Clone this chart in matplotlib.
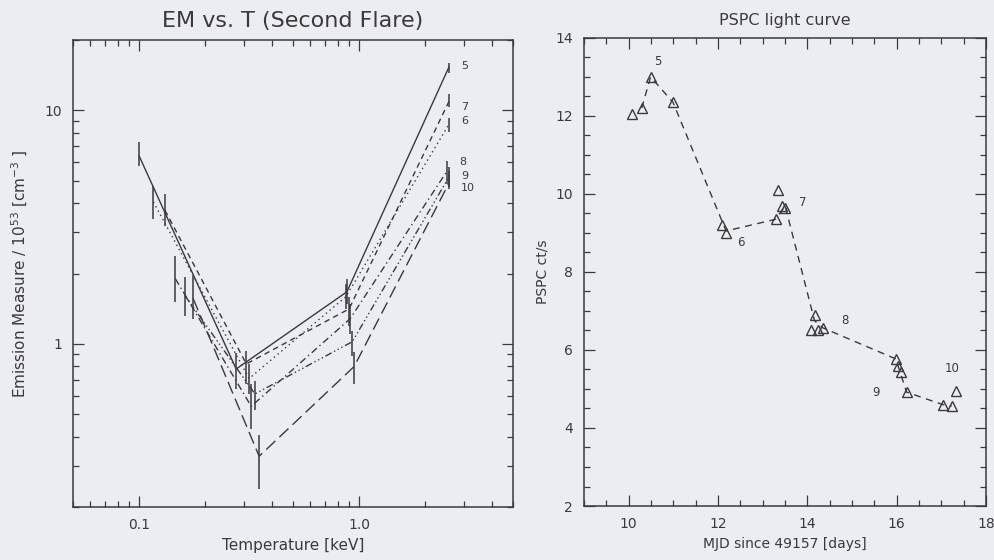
import matplotlib
matplotlib.use('Agg')
import matplotlib.pyplot as plt
from matplotlib.ticker import FixedLocator, NullFormatter, MultipleLocator

# ---- EM vs T data (series 5..10): T [keV], EM and error-bar bounds ----
names = ['5', '6', '7', '8', '9', '10']

T5 = [0.100, 0.276, 0.88, 2.56]
EM5 = [6.36, 0.78, 1.67, 15.3]
LO5 = [5.76, 0.64, 1.48, 14.5]
HI5 = [7.30, 0.91, 1.90, 16.0]

T6 = [0.116, 0.316, 0.87, 2.56]
EM6 = [4.05, 0.71, 1.59, 8.7]
LO6 = [3.42, 0.61, 1.41, 8.04]
HI6 = [4.73, 0.82, 1.80, 9.3]

T7 = [0.131, 0.307, 0.90, 2.56]
EM7 = [3.73, 0.82, 1.41, 10.9]
LO7 = [3.19, 0.675, 1.19, 10.3]
HI7 = [4.37, 0.93, 1.59, 11.7]

T8 = [0.146, 0.323, 0.91, 2.51]
EM8 = [1.90, 0.54, 1.28, 5.49]
LO8 = [1.51, 0.43, 1.10, 4.83]
HI8 = [2.38, 0.675, 1.48, 6.05]

T9 = [0.162, 0.336, 0.93, 2.56]
EM9 = [1.60, 0.61, 1.02, 5.17]
LO9 = [1.32, 0.52, 0.89, 4.69]
HI9 = [1.93, 0.69, 1.14, 5.71]

T10 = [0.176, 0.351, 0.95, 2.56]
EM10 = [1.56, 0.33, 0.80, 4.87]
LO10 = [1.28, 0.24, 0.675, 4.6]
HI10 = [1.95, 0.405, 0.92, 5.49]

# ---- PSPC light curve ----
mjd = [10.07, 10.29, 10.49, 10.99, 12.09, 12.18, 13.29, 13.34, 13.43, 13.50,
       14.16, 14.09, 14.23, 14.34, 15.98, 16.03, 16.09, 16.22, 17.03, 17.23, 17.33]
rate = [12.05, 12.2, 13.0, 12.35, 9.2, 9.0, 9.35, 10.1, 9.7, 9.65,
        6.9, 6.5, 6.5, 6.57, 5.77, 5.6, 5.44, 4.92, 4.6, 4.56, 4.95]
line_mjd = [10.29, 10.49, 10.99, 12.18, 13.29, 13.50, 14.16, 14.34, 15.98, 16.22, 17.03, 17.23]
line_rate = [12.2, 13.0, 12.35, 9.05, 9.35, 9.7, 6.75, 6.57, 5.77, 4.92, 4.6, 4.56]
lab_t = [10.65, 12.52, 13.9, 14.83, 15.53, 17.24]
lab_v = [13.4, 8.75, 9.77, 6.75, 4.9, 5.53]

bg = '#ececf3'
ink = '#3a3a3a'
plt.rcParams['font.family'] = 'DejaVu Sans'

fig = plt.figure(figsize=(9.95, 5.6), dpi=100, facecolor=bg)

# ------------- #
# EM vs T panel #
# ------------- #
ax = fig.add_axes([0.0734, 0.0946, 0.442, 0.834], facecolor=bg)
ax.set_xscale('log')
ax.set_yscale('log')

series = [(T5, EM5, LO5, HI5), (T6, EM6, LO6, HI6), (T7, EM7, LO7, HI7),
          (T8, EM8, LO8, HI8), (T9, EM9, LO9, HI9), (T10, EM10, LO10, HI10)]
dashes = [None, (1, 2.5), (4, 3), (5, 2.5, 1, 2.5), (5, 2, 1, 2, 1, 2, 1, 2), (9, 4)]
# pixel offsets (up is positive) of the end labels
lab_dy = [1, 3, -5, 9, 1, -5]

for (T, EM, LO, HI), d, nm, dy in zip(series, dashes, names, lab_dy):
    if d is None:
        ax.plot(T, EM, '-', color=ink, lw=1)
    else:
        ax.plot(T, EM, color=ink, lw=1, dashes=d)
    ax.vlines(T, LO, HI, color=ink, lw=1.1)
    ax.annotate(nm, (T[-1], EM[-1]), xytext=(12, dy), textcoords='offset pixels',
                fontsize=8, color=ink, va='center', ha='left')

ax.set_xlim(0.05, 5)
ax.set_ylim(0.2, 20)
ax.xaxis.set_major_locator(FixedLocator([0.1, 1.0]))
ax.set_xticklabels(['0.1', '1.0'])
ax.xaxis.set_minor_formatter(NullFormatter())
ax.yaxis.set_major_locator(FixedLocator([1, 10]))
ax.set_yticklabels(['1', '10'])
ax.yaxis.set_minor_formatter(NullFormatter())
ax.set_title('EM vs. T (Second Flare)', fontsize=16, color=ink, pad=9)
ax.set_xlabel('Temperature [keV]', fontsize=11, color=ink, labelpad=4)
ax.set_ylabel('Emission Measure / 10$^{53}$ [cm$^{-3}$ ]', fontsize=11, color=ink, labelpad=10)

# ---------------- #
# PSPC light curve #
# ---------------- #
bx = fig.add_axes([0.587, 0.0964, 0.404, 0.836], facecolor=bg)
bx.plot(line_mjd, line_rate, color=ink, lw=1, dashes=(5, 4))
bx.plot(mjd, rate, '^', ms=7.5, mfc='none', mec=ink, mew=1)
for t, v, nm in zip(lab_t, lab_v, names):
    bx.text(t, v, nm, fontsize=8.5, color=ink, ha='center', va='center')

bx.set_xlim(9, 18)
bx.set_ylim(2, 14)
bx.xaxis.set_major_locator(MultipleLocator(2))
bx.xaxis.set_minor_locator(MultipleLocator(0.5))
bx.yaxis.set_major_locator(MultipleLocator(2))
bx.yaxis.set_minor_locator(MultipleLocator(0.5))
bx.set_title('PSPC light curve', fontsize=11.5, color=ink, pad=9)
bx.set_xlabel('MJD since 49157 [days]', fontsize=10, color=ink, labelpad=4)
bx.set_ylabel('PSPC ct/s', fontsize=10, color=ink, labelpad=4)

for a in (ax, bx):
    a.tick_params(which='both', direction='in', top=True, right=True, colors=ink,
                  labelsize=10, width=0.9, pad=8)
    a.tick_params(which='major', length=8)
    a.tick_params(which='minor', length=4)
    for s in a.spines.values():
        s.set_color(ink)
        s.set_linewidth(1.1)

fig.savefig('out.png', dpi=100, facecolor=bg)
